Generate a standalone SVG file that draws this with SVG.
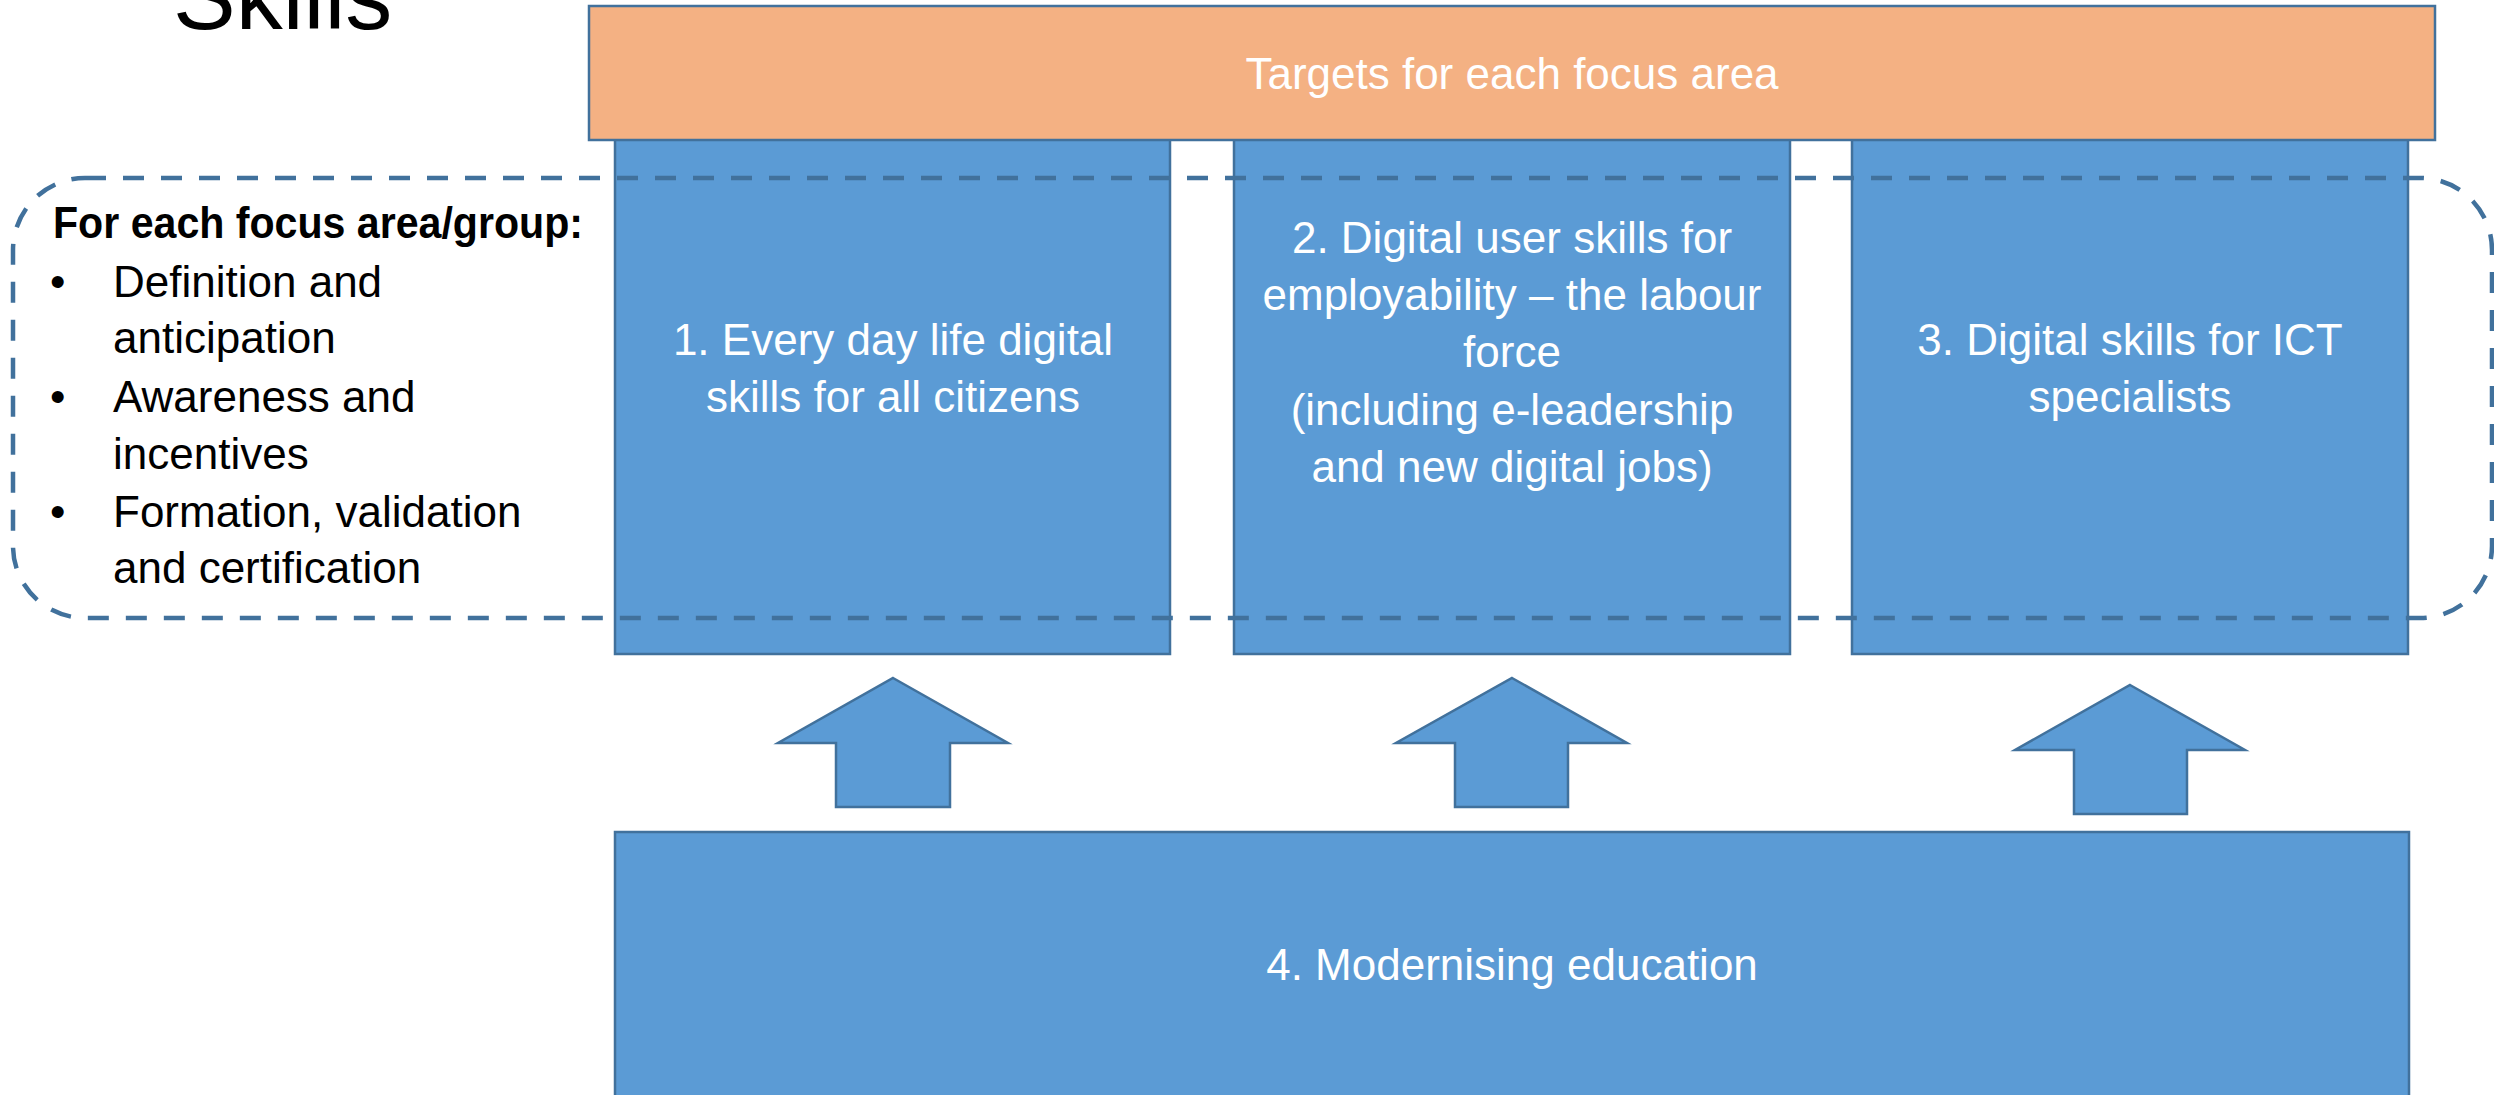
<svg xmlns="http://www.w3.org/2000/svg" width="2494" height="1095" viewBox="0 0 2494 1095">
<style>
.box{fill:#5b9bd5;stroke:#41719c;stroke-width:2.5}
.orange{fill:#f4b183;stroke:#41719c;stroke-width:2.5}
.arrow{fill:#5b9bd5;stroke:#41719c;stroke-width:2.5;stroke-linejoin:miter}
.wt{font-family:"Liberation Sans",Arial,sans-serif;font-size:44px;fill:#ffffff;text-anchor:middle}
.bt{font-family:"Liberation Sans",Arial,sans-serif;font-size:44px;fill:#000000}
.dash{fill:none;stroke:#41719c;stroke-width:4.5;stroke-dasharray:21 17}
</style>
<rect width="2494" height="1095" fill="#ffffff"/>
<g id="title">
<text x="173" y="29" font-family="Liberation Sans, Arial, sans-serif" font-size="94" fill="#000000">Skills</text>
</g>
<g id="box1">
<rect class="box" x="615" y="100" width="555" height="554"/>
<text class="wt" x="893" y="355">1. Every day life digital</text>
<text class="wt" x="893" y="412">skills for all citizens</text>
</g>
<g id="box2">
<rect class="box" x="1234" y="100" width="556" height="554"/>
<text class="wt" x="1512" y="253">2. Digital user skills for</text>
<text class="wt" x="1512" y="310">employability – the labour</text>
<text class="wt" x="1512" y="367">force</text>
<text class="wt" x="1512" y="425">(including e-leadership</text>
<text class="wt" x="1512" y="482">and new digital jobs)</text>
</g>
<g id="box3">
<rect class="box" x="1852" y="100" width="556" height="554"/>
<text class="wt" x="2130" y="355">3. Digital skills for ICT</text>
<text class="wt" x="2130" y="412">specialists</text>
</g>
<g id="targets">
<rect class="orange" x="589" y="6" width="1846" height="134"/>
<text class="wt" x="1512" y="89">Targets for each focus area</text>
</g>
<g id="box4">
<rect class="box" x="615" y="832" width="1794" height="300"/>
<text class="wt" x="1512" y="980">4. Modernising education</text>
</g>
<g id="connectors">
<polygon class="arrow" points="893,678 1008,743 950,743 950,807 836,807 836,743 778,743"/>
<polygon class="arrow" points="1512,678 1627,743 1568,743 1568,807 1455,807 1455,743 1396,743"/>
<polygon class="arrow" points="2130,685 2245,750 2187,750 2187,814 2074,814 2074,750 2015,750"/>
</g>
<g id="focus-group">
<rect class="dash" x="13" y="178" width="2479" height="440" rx="72" ry="72"/>
<text class="bt" x="53" y="238" font-weight="bold" textLength="530" lengthAdjust="spacingAndGlyphs">For each focus area/group:</text>
<text class="bt" x="50" y="297">•</text>
<text class="bt" x="113" y="297">Definition and</text>
<text class="bt" x="113" y="353">anticipation</text>
<text class="bt" x="50" y="412">•</text>
<text class="bt" x="113" y="412">Awareness and</text>
<text class="bt" x="113" y="469">incentives</text>
<text class="bt" x="50" y="527">•</text>
<text class="bt" x="113" y="527">Formation, validation</text>
<text class="bt" x="113" y="583">and certification</text>
</g>
</svg>
